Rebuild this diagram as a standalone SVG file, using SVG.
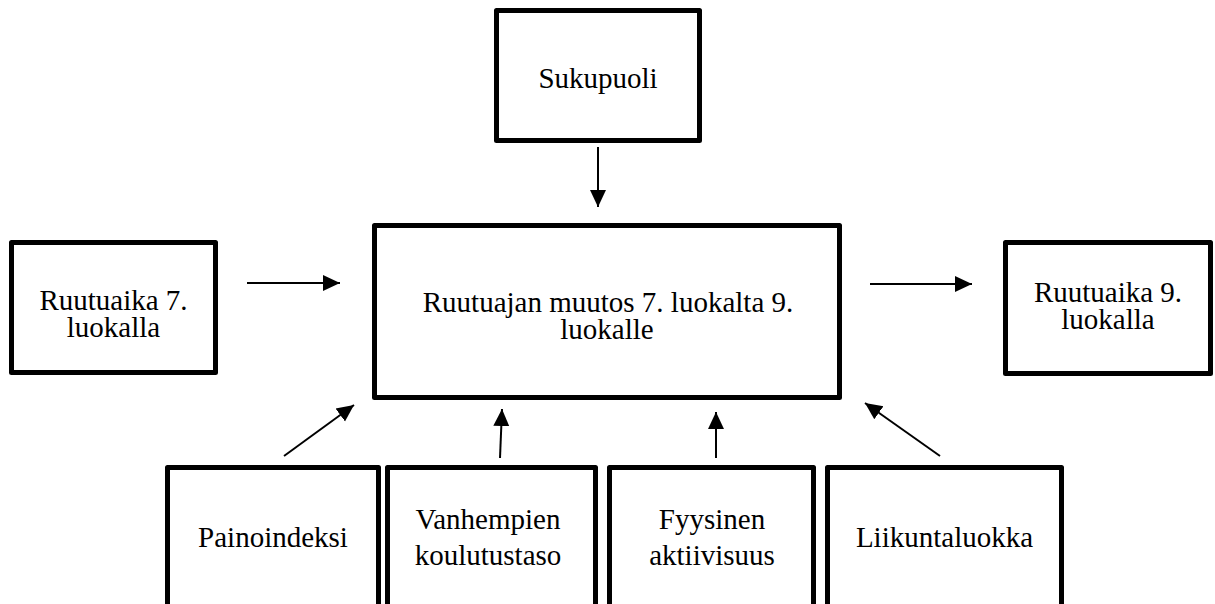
<svg xmlns="http://www.w3.org/2000/svg" width="1215" height="604" viewBox="0 0 1215 604">
<style>
.box{fill:#fff;stroke:#000;stroke-width:5;stroke-linejoin:round}
.conn{stroke:#000;stroke-width:2;fill:none;marker-end:url(#ah)}
</style>
<defs>
<marker id="ah" markerUnits="userSpaceOnUse" markerWidth="18" markerHeight="18" viewBox="0 0 18 16" refX="17" refY="8" orient="auto">
<path d="M0,0 L17,8 L0,16 Z" fill="#000"/>
</marker>
</defs>
<rect width="1215" height="604" fill="#fff"/>
<g font-family="Liberation Serif, DejaVu Serif, serif" font-size="29" text-anchor="middle" fill="#000">
<g id="sukupuoli">
<rect class="box" x="496.5" y="10.5" width="203" height="130"/>
<text x="598" y="88">Sukupuoli</text>
</g>
<g id="ruutuaika7">
<rect class="box" x="11.5" y="242.5" width="204" height="130"/>
<text x="113.5" y="310">Ruutuaika 7.</text>
<text x="113.5" y="337">luokalla</text>
</g>
<g id="muutos">
<rect class="box" x="374.5" y="225.5" width="465" height="172"/>
<text x="608" y="312">Ruutuajan muutos 7. luokalta 9.</text>
<text x="607" y="339">luokalle</text>
</g>
<g id="ruutuaika9">
<rect class="box" x="1005.5" y="242.5" width="205" height="131"/>
<text x="1108" y="302">Ruutuaika 9.</text>
<text x="1108" y="329">luokalla</text>
</g>
<g id="painoindeksi">
<rect class="box" x="167.5" y="467.5" width="211" height="160"/>
<text x="273" y="547">Painoindeksi</text>
</g>
<g id="vanhempien">
<rect class="box" x="387.5" y="467.5" width="208" height="160"/>
<text x="488" y="529">Vanhempien</text>
<text x="488" y="565">koulutustaso</text>
</g>
<g id="fyysinen">
<rect class="box" x="609.5" y="467.5" width="204" height="160"/>
<text x="712" y="529">Fyysinen</text>
<text x="712" y="565">aktiivisuus</text>
</g>
<g id="liikuntaluokka">
<rect class="box" x="827.5" y="467.5" width="234" height="160"/>
<text x="944.5" y="547">Liikuntaluokka</text>
</g>
</g>
<g id="connectors">
<line class="conn" x1="598" y1="147" x2="598" y2="207"/>
<line class="conn" x1="247" y1="283" x2="340" y2="283"/>
<line class="conn" x1="870" y1="284" x2="972" y2="284"/>
<line class="conn" x1="284" y1="456" x2="354" y2="405"/>
<line class="conn" x1="500" y1="458" x2="502" y2="409"/>
<line class="conn" x1="716" y1="458" x2="716" y2="412"/>
<line class="conn" x1="940" y1="456" x2="865" y2="403"/>
</g>
</svg>
